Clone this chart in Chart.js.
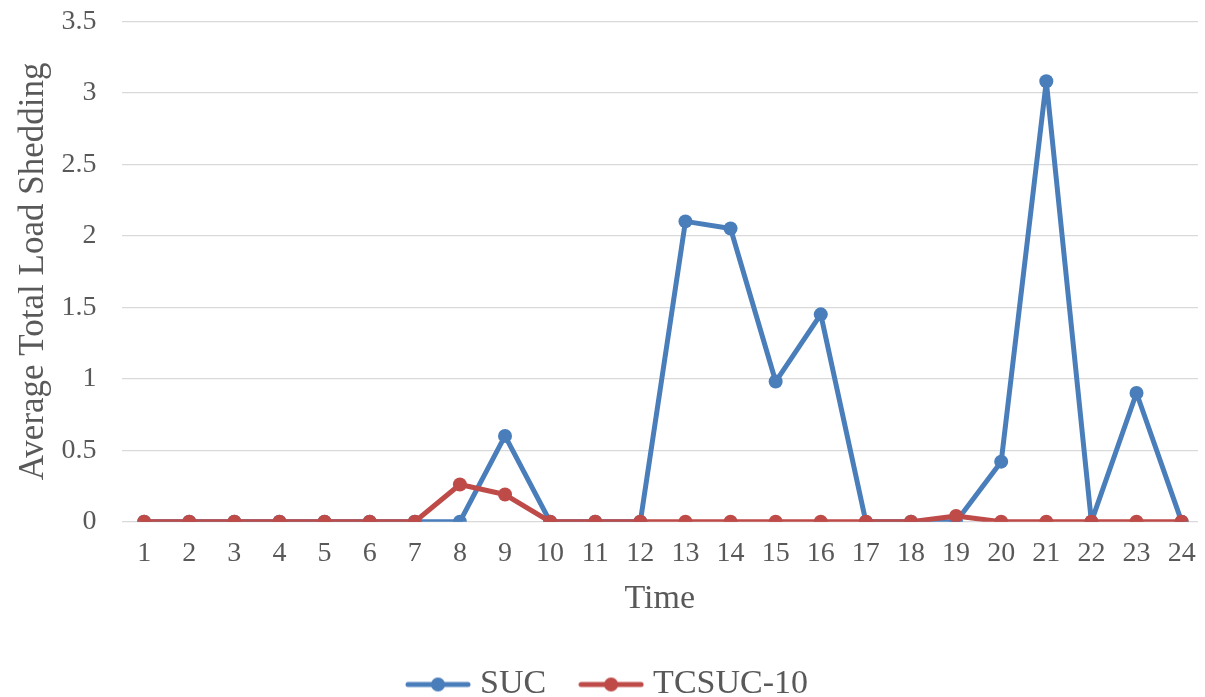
<!DOCTYPE html>
<html>
<head>
<meta charset="utf-8">
<script src="https://cdn.jsdelivr.net/npm/chart.js@4/dist/chart.umd.min.js"></script>
<style>
  html, body { margin: 0; padding: 0; background: #ffffff; overflow: hidden; }
  #wrap { width: 1205px; height: 697px; }
</style>
</head>
<body>
<div id="wrap"><canvas id="c" width="1205" height="697"></canvas></div>
<script>
const categories = ['1','2','3','4','5','6','7','8','9','10','11','12','13','14','15','16','17','18','19','20','21','22','23','24'];
const sucValues = [0,0,0,0,0,0,0,0,0.6,0,0,0,2.1,2.05,0.98,1.45,0,0,0,0.42,3.08,0,0.9,0];
const tcsucValues = [0,0,0,0,0,0,0,0.26,0.19,0,0,0,0,0,0,0,0,0,0.04,0,0,0,0,0];
const yTickLabels = ['0','0.5','1','1.5','2','2.5','3','3.5'];
const seriesNames = ['SUC', 'TCSUC-10'];
const seriesColors = ['#4A7EBB', '#BE4B48'];

const FONT = "'Liberation Serif', 'Times New Roman', serif";
const GRAY = '#595959';

function legendIcon(color) {
  const c = document.createElement('canvas');
  c.width = 66; c.height = 18;
  const g = c.getContext('2d');
  g.strokeStyle = color;
  g.lineWidth = 5;
  g.lineCap = 'round';
  g.beginPath(); g.moveTo(3, 9); g.lineTo(63, 9); g.stroke();
  g.fillStyle = color;
  g.beginPath(); g.arc(33, 9, 7, 0, Math.PI * 2); g.fill();
  return c;
}

const legendFit = {
  id: 'legendFit',
  beforeInit(chart) {
    const orig = chart.legend.fit;
    chart.legend.fit = function () { orig.call(this); this.height = 69.5; };
  },
  afterLayout(chart) {
    chart.legend.left += 8;
    chart.legend.right += 8;
  }
};

function series(i, values, order) {
  return {
    label: seriesNames[i], data: values,
    borderColor: seriesColors[i], backgroundColor: seriesColors[i],
    pointBackgroundColor: seriesColors[i], pointBorderColor: seriesColors[i],
    borderWidth: 5, pointRadius: 7, pointBorderWidth: 0, tension: 0,
    borderJoinStyle: 'round', borderCapStyle: 'round',
    pointStyle: 'circle', order: order
  };
}

new Chart(document.getElementById('c'), {
  type: 'line',
  data: {
    labels: categories,
    datasets: [ series(0, sucValues, 1), series(1, tcsucValues, 0) ]
  },
  options: {
    responsive: false,
    animation: false,
    layout: { padding: { top: 21.2, left: 0, right: 0, bottom: 0 } },
    plugins: {
      tooltip: { enabled: false },
      legend: {
        position: 'bottom',
        labels: {
          usePointStyle: true,
          pointStyleWidth: 50,
          padding: 40,
          color: GRAY,
          font: { family: FONT, size: 34 },
          generateLabels(chart) {
            return chart.data.datasets.map((ds, i) => ({
              text: ds.label, datasetIndex: i,
              fillStyle: ds.borderColor, strokeStyle: ds.borderColor,
              fontColor: GRAY, lineWidth: 0,
              pointStyle: legendIcon(ds.borderColor), hidden: false
            }));
          }
        }
      }
    },
    scales: {
      x: {
        type: 'linear',
        min: 0.5,
        max: 24.363,
        grid: { display: false, drawTicks: false },
        border: { display: false },
        ticks: {
          color: GRAY, font: { family: FONT, size: 28 }, padding: 15.5, maxRotation: 0, autoSkip: false,
          callback: (v) => categories[v - 1]
        },
        afterBuildTicks(s) { s.ticks = categories.map((c, i) => ({ value: i + 1 })); },
        title: { display: true, text: 'Time', color: GRAY, font: { family: FONT, size: 34 }, padding: { top: 0, bottom: 7.7 } },
        afterFit(s) { s.height = 105.8; s.paddingLeft = 0; s.paddingRight = 0; }
      },
      y: {
        min: 0, max: 3.5,
        grid: { color: '#D9D9D9', lineWidth: 1.2, drawTicks: false },
        border: { display: false },
        ticks: {
          stepSize: 0.5, color: GRAY, font: { family: FONT, size: 28 }, padding: 25,
          callback: (v, idx) => yTickLabels[idx]
        },
        title: { display: true, text: 'Average Total Load Shedding', color: GRAY, font: { family: FONT, size: 35 }, padding: { top: 13, bottom: 0 } },
        afterFit(s) { s.width = 121.6; s.paddingTop = 0; s.paddingBottom = 0; }
      }
    }
  },
  plugins: [legendFit]
});
</script>
</body>
</html>
